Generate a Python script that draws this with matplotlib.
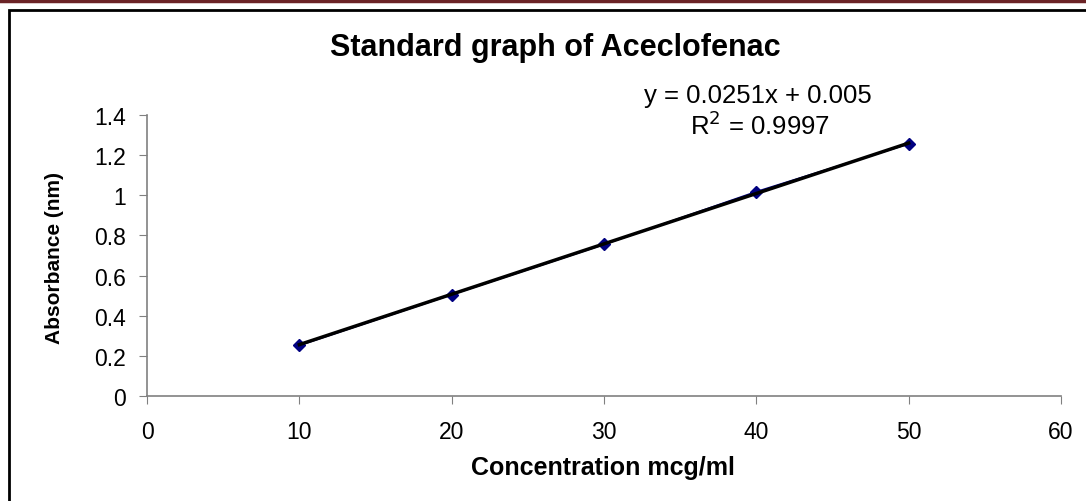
import matplotlib.pyplot as plt
from matplotlib.patches import Rectangle
from matplotlib.lines import Line2D

plt.rcParams['font.family'] = ['Liberation Sans', 'DejaVu Sans']

# data
concentration = [10, 20, 30, 40, 50]
absorbance = [0.252, 0.505, 0.755, 1.018, 1.256]
slope = 0.0251
intercept = 0.005
x_ticks = [0, 10, 20, 30, 40, 50, 60]
y_ticks = [0, 0.2, 0.4, 0.6, 0.8, 1.0, 1.2, 1.4]
y_tick_labels = ['0', '0.2', '0.4', '0.6', '0.8', '1', '1.2', '1.4']

fig = plt.figure(figsize=(10.86, 5.02), dpi=100)
W, H = 1086, 502

# page decoration: dark red rule and black frame
fig.add_artist(Line2D([0, 1], [1 - 1.5 / H, 1 - 1.5 / H], color='#6b2326', lw=2.5,
                      transform=fig.transFigure))
fig.add_artist(Rectangle((9 / W, -0.05), 1.1, 1 - 11 / H + 0.05, fill=False,
                         ec='black', lw=2, transform=fig.transFigure))

ax = fig.add_axes([147 / W, 1 - 397 / H, (1061 - 147) / W, (397 - 116) / H])

fit = [slope * c + intercept for c in concentration]
ax.plot(concentration, absorbance, color='#000080', lw=1.2, marker='D', ms=6,
        mfc='#000080', mec='#000080', zorder=3)
ax.plot(concentration, fit, color='black', lw=2.5, zorder=4)

ax.set_xlim(0, 60)
ax.set_ylim(0, 1.4)
ax.set_xticks(x_ticks)
ax.set_yticks(y_ticks)
ax.set_yticklabels(y_tick_labels)
ax.tick_params(axis='both', direction='out', length=6, color='#808080',
               labelsize=16.5)
ax.tick_params(axis='x', pad=11)
ax.tick_params(axis='y', pad=9)
for side in ['top', 'right']:
    ax.spines[side].set_visible(False)
for side in ['left', 'bottom']:
    ax.spines[side].set_color('#808080')
    ax.spines[side].set_linewidth(1.2)

fig.text(603 / W, 1 - 475 / H, 'Concentration mcg/ml', fontsize=18,
         fontweight='bold', ha='center', va='baseline')
fig.text(55 / W, 1 - 258 / H, 'Absorbance (nm)', fontsize=15,
         fontweight='bold', ha='center', va='center', rotation=90)
fig.text(555 / W, 1 - 56 / H, 'Standard graph of Aceclofenac', fontsize=22,
         fontweight='bold', ha='center', va='baseline')
fig.text(758 / W, 1 - 103 / H, 'y = 0.0251x + 0.005', fontsize=18.5,
         ha='center', va='baseline')
fig.text(760 / W, 1 - 135 / H, r'R$^{2}$ = 0.9997', fontsize=18.5,
         ha='center', va='baseline')

fig.savefig('out.png', dpi=100)
